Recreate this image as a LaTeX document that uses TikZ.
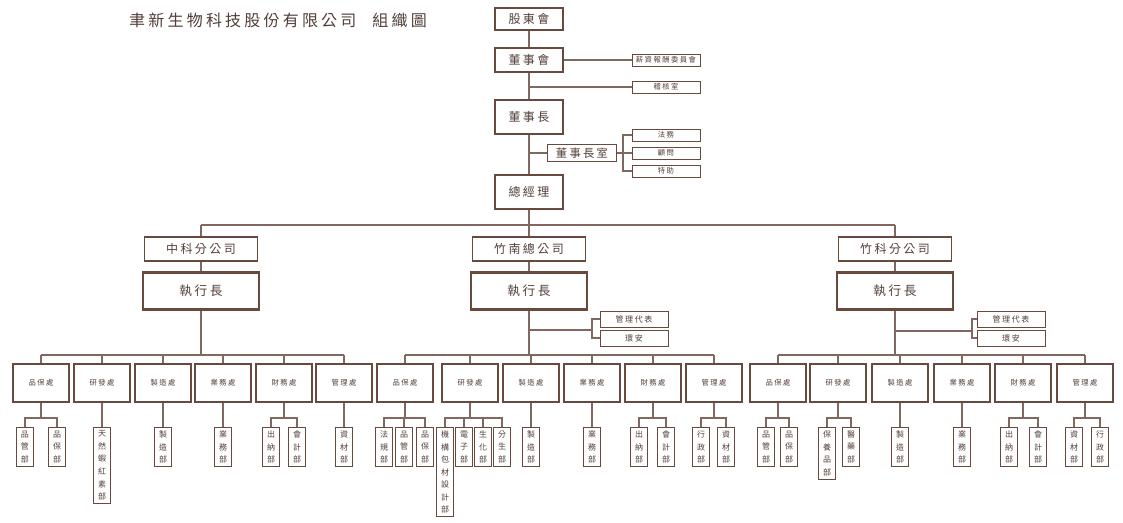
\documentclass[tikz,border=0pt]{standalone}
\usepackage{fontspec}
\setmainfont{Noto Sans CJK TC}
\newfontfamily\widecjk[LetterSpace=20]{Noto Sans CJK TC}
\usetikzlibrary{positioning}
\definecolor{boxbrown}{RGB}{105,72,62}
\definecolor{linebrown}{RGB}{128,104,96}
\definecolor{txtbrown}{RGB}{82,62,56}

\tikzset{
  conn/.style={draw=linebrown, line width=1pt},
  topbox/.style={draw=boxbrown, fill=white, line width=1.7pt, inner sep=0pt, minimum width=51pt, text=txtbrown, font=\widecjk\fontsize{9pt}{10pt}\selectfont},
  chobox/.style={draw=boxbrown, fill=white, line width=1.1pt, inner sep=0pt, minimum width=52pt, minimum height=13pt, text=txtbrown, font=\widecjk\fontsize{8.5pt}{9pt}\selectfont},
  sidebox/.style={draw=boxbrown, fill=white, line width=0.6pt, inner sep=0pt, minimum width=51pt, minimum height=9pt, text=txtbrown, font=\widecjk\fontsize{5.5pt}{6pt}\selectfont},
  branchbox/.style={draw=boxbrown, fill=white, line width=0.8pt, inner sep=0pt, minimum width=85pt, minimum height=18pt, text=txtbrown, font=\widecjk\fontsize{9pt}{10pt}\selectfont},
  ceobox/.style={draw=boxbrown, fill=white, line width=1.8pt, inner sep=0pt, minimum width=87pt, minimum height=28pt, text=txtbrown, font=\widecjk\fontsize{9.5pt}{10pt}\selectfont},
  repbox/.style={draw=boxbrown, fill=white, line width=0.7pt, inner sep=0pt, minimum width=51pt, minimum height=12pt, text=txtbrown, font=\widecjk\fontsize{6pt}{7pt}\selectfont},
  deptbox/.style={draw=boxbrown, fill=white, line width=1.6pt, inner sep=0pt, minimum width=42pt, minimum height=29pt, text=txtbrown, font=\widecjk\fontsize{5.5pt}{6pt}\selectfont},
  subbox/.style={draw=boxbrown, fill=white, line width=0.7pt, inner xsep=0pt, inner ysep=2.5pt, minimum width=12.75pt, align=center, text=txtbrown, font=\fontsize{6pt}{9.4pt}\selectfont},
}

\begin{document}
\begin{tikzpicture}[x=0.75pt, y=-0.75pt]
\fill[white] (0,0) rectangle (1123,523);
\useasboundingbox (0,0) rectangle (1123,523);

% Title
\node[text=txtbrown, font=\widecjk\fontsize{12pt}{13pt}\selectfont] (title) at (278,20) {聿新生物科技股份有限公司\quad 組織圖};

% Board chain
\node[topbox, minimum height=17pt] (gsm) at (529,19) {股東會};
\node[topbox, minimum height=18pt] (bod) at (529,60) {董事會};
\node[topbox, minimum height=25pt] (chair) at (529,117) {董事長};
\node[topbox, minimum height=26pt] (gm) at (529,192) {總經理};
\node[chobox] (cho) at (582,153) {董事長室};

% Small boxes on the right
\foreach \name/\y/\txt in {pay/60/薪資報酬委員會, audit/87/稽核室, law/135/法務, adv/153/顧問, asst/171/特助} {
    \node[sidebox] (\name) at (666,\y) {\txt};
}

\draw[conn] (gsm) -- (bod);
\draw[conn] (bod) -- (chair);
\draw[conn] (chair) -- (gm);
\draw[conn] (bod) -- (pay);
\draw[conn] (audit.west) -- (audit.west -| bod.south);
\draw[conn] (cho.west) -- (cho.west -| chair.south);
\coordinate (chofork) at (623,153);
\draw[conn] (cho) -- (chofork);
\foreach \name in {law,adv,asst} {
    \draw[conn] (chofork) |- (\name.west);
}

% Branches and CEOs
\coordinate (topbus) at (529,225);
\draw[conn] (gm) -- (topbus);
\foreach \g/\x/\txt in {A/201/中科分公司, B/529/竹南總公司, C/895/竹科分公司} {
    \node[branchbox] (br\g) at (\x,249) {\txt};
    \node[ceobox] (ceo\g) at (\x,291) {執行長};
    \coordinate (bus\g) at (\x,355);
    \draw[conn] (br\g.north) -- (br\g.north |- topbus);
    \draw[conn] (br\g) -- (ceo\g);
    \draw[conn] (ceo\g) -- (bus\g);
}
\draw[conn] (brA.north |- topbus) -- (brC.north |- topbus);

% Management representative and safety
\foreach \g/\x/\fx/\y in {B/634/592/330, C/1011/972/331} {
    \node[repbox] (rep\g) at (\x,319) {管理代表};
    \node[repbox] (env\g) at (\x,338) {環安};
    \coordinate (rf\g) at (\fx,\y);
    \draw[conn] (ceo\g.south |- rf\g) -- (rf\g);
    \draw[conn] (rf\g) |- (rep\g.west);
    \draw[conn] (rf\g) |- (env\g.west);
}

% Divisions
\foreach \g/\d/\x/\txt in {A/1/41/品保處, A/2/102/研發處, A/3/163/製造處, A/4/223/業務處, A/5/284/財務處, A/6/344/管理處,
                            B/1/405/品保處, B/2/470/研發處, B/3/531/製造處, B/4/592/業務處, B/5/653/財務處, B/6/714/管理處,
                            C/1/778/品保處, C/2/838/研發處, C/3/900/製造處, C/4/962/業務處, C/5/1023/財務處, C/6/1085/管理處} {
    \node[deptbox] (d\g\d) at (\x,383) {\txt};
    \coordinate (f\g\d) at (\x,418);
    \draw[conn] (d\g\d.north) -- (d\g\d.north |- bus\g);
    \draw[conn] (d\g\d) -- (f\g\d);
}
\foreach \g in {A,B,C} {
    \draw[conn] (d\g1.north |- bus\g) -- (d\g6.north |- bus\g);
}

% Departments
\foreach \g/\d/\n/\x/\txt in {A/1/1/25/品\\管\\部, A/1/2/57/品\\保\\部, A/2/1/102/天\\然\\蝦\\紅\\素\\部, A/3/1/163/製\\造\\部,
                               A/4/1/223/業\\務\\部, A/5/1/271/出\\納\\部, A/5/2/297/會\\計\\部, A/6/1/344/資\\材\\部,
                               B/1/1/384/法\\規\\部, B/1/2/404/品\\管\\部, B/1/3/425/品\\保\\部,
                               B/2/1/445/機\\構\\包\\材\\設\\計\\部, B/2/2/464/電\\子\\部, B/2/3/483/生\\化\\部, B/2/4/502/分\\生\\部,
                               B/3/1/531/製\\造\\部, B/4/1/592/業\\務\\部, B/5/1/639/出\\納\\部, B/5/2/666/會\\計\\部,
                               B/6/1/701/行\\政\\部, B/6/2/726/資\\材\\部,
                               C/1/1/766/品\\管\\部, C/1/2/789/品\\保\\部, C/2/1/827/保\\養\\品\\部, C/2/2/851/醫\\藥\\部,
                               C/3/1/900/製\\造\\部, C/4/1/962/業\\務\\部, C/5/1/1009/出\\納\\部, C/5/2/1038/會\\計\\部,
                               C/6/1/1074/資\\材\\部, C/6/2/1100/行\\政\\部} {
    \node[subbox, anchor=north] (s\g\d\n) at (\x,427) {\txt};
    \draw[conn] (f\g\d) -| (s\g\d\n.north);
}

\end{tikzpicture}
\end{document}
